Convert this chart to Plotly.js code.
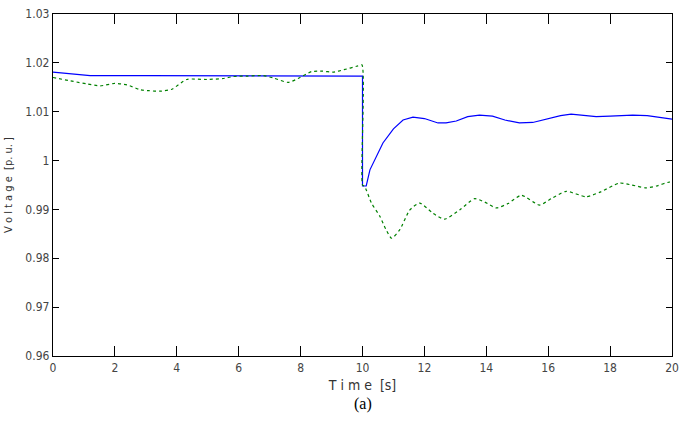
<!DOCTYPE html>
<html>
<head>
<meta charset="utf-8">
<script src="https://cdn.plot.ly/plotly-3.0.1.min.js"></script>
<style>html,body{margin:0;padding:0;background:#fff;}#chart{width:686px;height:425px;}</style>
</head>
<body>
<div id="chart"></div>
<script>
// Blue (solid) trace
var blueT = [0, 0.4, 0.8, 1.2, 3, 5.5, 5.8, 8, 10, 10, 10.12, 10.24, 10.45, 10.66, 11.0, 11.31, 11.63, 12.0, 12.44, 12.7, 13.03, 13.4, 13.78, 14.2, 14.6, 15.07, 15.5, 16.0, 16.4, 16.74, 17.1, 17.55, 18.0, 18.73, 19.2, 19.6, 20];
var blueV = [1.0181, 1.0179, 1.0176, 1.0174, 1.0174, 1.0174, 1.0173, 1.0173, 1.0173, 0.9948, 0.9948, 0.9981, 1.0010, 1.0036, 1.0065, 1.0083, 1.0089, 1.0086, 1.0077, 1.0077, 1.0081, 1.0090, 1.0093, 1.0091, 1.0083, 1.0077, 1.0078, 1.0086, 1.0092, 1.0095, 1.0093, 1.0090, 1.0091, 1.0093, 1.0092, 1.0089, 1.0085];
// Green (dotted) trace
var greenT = [0, 0.66, 1.1, 1.53, 2.0, 2.39, 2.82, 3.1, 3.46, 3.84, 4.32, 4.97, 5.5, 5.83, 6.3, 6.79, 7.12, 7.6, 7.92, 8.35, 8.7, 9.05, 9.4, 9.81, 9.98, 10.0, 10.07, 10.29, 10.56, 10.75, 10.94, 11.2, 11.53, 11.85, 12.28, 12.65, 13.14, 13.62, 13.95, 14.32, 14.7, 15.13, 15.72, 16.1, 16.58, 17.23, 17.7, 18.3, 18.7, 19.16, 19.5, 19.91, 20];
var greenV = [1.0170, 1.0162, 1.0157, 1.0153, 1.0158, 1.0155, 1.0145, 1.0143, 1.0142, 1.0146, 1.0166, 1.0166, 1.0168, 1.0172, 1.0173, 1.0174, 1.0169, 1.0160, 1.0168, 1.0182, 1.0183, 1.0181, 1.0186, 1.0193, 1.0196, 0.9950, 0.9947, 0.9913, 0.9886, 0.9860, 0.9841, 0.9858, 0.9899, 0.9913, 0.9892, 0.9880, 0.9899, 0.9922, 0.9915, 0.9903, 0.9912, 0.9929, 0.9909, 0.9922, 0.9937, 0.9926, 0.9936, 0.9954, 0.9950, 0.9944, 0.9948, 0.9956, 0.9955];

var tickVals = [0.96, 0.97, 0.98, 0.99, 1.00, 1.01, 1.02, 1.03];
var tickText = ['0.96', '0.97', '0.98', '0.99', '1', '1.01', '1.02', '1.03'];
var xTicks = [0, 2, 4, 6, 8, 10, 12, 14, 16, 18, 20];

var narrow = 'Liberation Sans Narrow, DejaVu Sans Condensed, Arial Narrow, sans-serif';
var serif = 'Liberation Serif, Times New Roman, serif';

var data = [
  {x: blueT, y: blueV, mode: 'lines', line: {color: '#0000ff', width: 1.2}, hoverinfo: 'skip'},
  {x: greenT, y: greenV, mode: 'lines', line: {color: '#008000', width: 1.2, dash: 'dot', shape: 'spline', smoothing: 0.6}, hoverinfo: 'skip'}
];

var layout = {
  width: 686, height: 425,
  margin: {l: 53, r: 14, t: 14, b: 69},
  paper_bgcolor: '#fff', plot_bgcolor: '#fff',
  showlegend: false,
  font: {family: narrow, color: '#333', size: 11},
  xaxis: {
    range: [0, 20], tickvals: xTicks, ticks: 'inside', ticklen: 10, tickwidth: 1, tickcolor: '#000',
    showline: true, linecolor: '#000', linewidth: 1.2, mirror: 'ticks', showgrid: false, zeroline: false,
    tickfont: {family: narrow, size: 12, color: '#444'},
    title: {text: 'T i m e  [s]', font: {family: narrow, size: 14, color: '#333'}, standoff: 6}
  },
  yaxis: {
    range: [0.96, 1.03], tickvals: tickVals, ticktext: tickText, ticks: 'inside', ticklen: 6, tickwidth: 1, tickcolor: '#000',
    showline: true, linecolor: '#000', linewidth: 1.2, mirror: 'ticks', showgrid: false, zeroline: false,
    tickfont: {family: narrow, size: 12, color: '#444'},
    title: {text: 'V o l t a g e  [p. u. ]', font: {family: narrow, size: 11, color: '#333'}, standoff: 10}
  },
  annotations: [
    {text: '(a)', xref: 'paper', yref: 'paper', x: 0.5, y: 0, yshift: -37, xanchor: 'center', yanchor: 'top', showarrow: false,
     font: {family: serif, size: 16, color: '#000'}}
  ]
};

Plotly.newPlot('chart', data, layout, {staticPlot: true, displayModeBar: false});
</script>
</body>
</html>
